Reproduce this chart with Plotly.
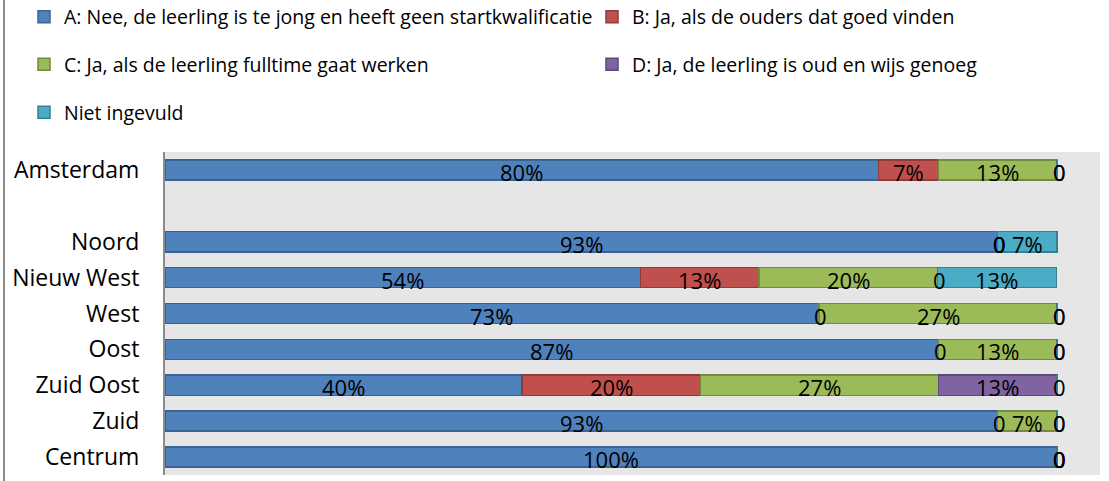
import plotly.graph_objects as go

# ---- data ----
categories = ["Amsterdam", " ", "Noord", "Nieuw West", "West", "Oost", "Zuid Oost", "Zuid", "Centrum"]

series_names = [
    "A: Nee, de leerling is te jong en heeft geen startkwalificatie",
    "B: Ja, als de ouders dat goed vinden",
    "C: Ja, als de leerling fulltime gaat werken",
    "D: Ja, de leerling is oud en wijs genoeg",
    "Niet ingevuld",
]

# percentages (bar lengths)
values_A = [80.0, None, 93.3, 53.3, 73.3, 86.7, 40.0, 93.3, 100.0]
values_B = [6.7, None, 0.0, 13.3, 0.0, 0.0, 20.0, 0.0, 0.0]
values_C = [13.3, None, 0.0, 20.0, 26.7, 13.3, 26.7, 6.7, 0.0]
values_D = [0.0, None, 0.0, 0.0, 0.0, 0.0, 13.3, 0.0, 0.0]
values_N = [0.0, None, 6.7, 13.3, 0.0, 0.0, 0.0, 0.0, 0.0]

# data labels as printed in the chart
labels_A = ["80%", "", "93%", "54%", "73%", "87%", "40%", "93%", "100%"]
labels_B = ["7%", "", "0", "13%", "0", "0", "20%", "0", "0"]
labels_C = ["13%", "", "0", "20%", "27%", "13%", "27%", "7%", "0"]
labels_D = ["0", "", "0", "0", "0", "0", "13%", "0", "0"]
labels_N = ["0", "", "7%", "13%", "0", "0", "0", "0", "0"]

# ---- styling ----
fill_colors = ["#4F81BD", "#C0504D", "#9BBB59", "#8064A2", "#4BACC6"]
edge_colors = ["#3A6391", "#8E3B39", "#728A42", "#5E4A78", "#378093"]
legend_ids = ["legend", "legend2", "legend3", "legend4", "legend5"]
# legend item anchor positions (container fractions)
legend_x = [24 / 1109, 592 / 1109, 24 / 1109, 592 / 1109, 24 / 1109]
legend_y = [1 - 17 / 481, 1 - 17 / 481, 1 - 64.5 / 481, 1 - 64.5 / 481, 1 - 112.5 / 481]

all_values = [values_A, values_B, values_C, values_D, values_N]
all_labels = [labels_A, labels_B, labels_C, labels_D, labels_N]

FONT = "Open Sans"

fig = go.Figure()
for name, vals, col, edge, leg in zip(series_names, all_values, fill_colors, edge_colors, legend_ids):
    fig.add_trace(go.Bar(
        y=categories, x=vals, orientation="h", name=name,
        marker=dict(color=col, line=dict(color=edge, width=1.5)),
        legend=leg, hoverinfo="skip",
    ))

# data labels centred on each segment (computed from the stacked values)
cum = [0.0] * len(categories)
annotations = []
for vals, lbls in zip(all_values, all_labels):
    for i, (cat, v, t) in enumerate(zip(categories, vals, lbls)):
        if v is None:
            continue
        mid = cum[i] + v / 2.0
        cum[i] += v
        annotations.append(dict(
            x=mid, y=cat, xref="x", yref="y", text=t, showarrow=False,
            xanchor="center", yanchor="middle", yshift=-2,
            xshift=2 if v == 0 else 0,
            font=dict(family=FONT, size=22, color="black"),
        ))

# frame line on the left edge of the picture
shapes = [dict(type="line", xref="paper", yref="paper",
               x0=-0.1722, x1=-0.1722, y0=-0.03, y1=1.48,
               line=dict(color="#8C8C8C", width=2))]

legend_layout = {}
for leg, lx, ly in zip(legend_ids, legend_x, legend_y):
    legend_layout[leg] = dict(
        xref="container", yref="container", x=lx, y=ly,
        xanchor="left", yanchor="middle", orientation="v",
        font=dict(family=FONT, size=19.5, color="black"),
        bgcolor="rgba(0,0,0,0)", borderwidth=0,
        itemclick=False, itemdoubleclick=False,
    )

fig.update_layout(
    width=1109, height=481,
    barmode="stack", bargap=0.44,
    margin=dict(l=165, r=9, t=152, b=6, pad=0, autoexpand=False),
    plot_bgcolor="#E6E6E6", paper_bgcolor="white",
    font=dict(family=FONT, size=22, color="black"),
    xaxis=dict(range=[0, 104.8], showticklabels=False, showgrid=False,
               zeroline=False, showline=False, ticks=""),
    yaxis=dict(type="category", categoryorder="array", categoryarray=categories,
               range=[8.5, -0.5], showgrid=False, zeroline=False,
               showline=True, linecolor="#8C8C8C", linewidth=2, ticks="",
               ticklabelstandoff=19,
               tickfont=dict(family=FONT, size=23, color="black")),
    annotations=annotations,
    shapes=shapes,
    showlegend=True,
    **legend_layout,
)

fig.write_html("out.html", config={"displayModeBar": False},
               post_script="document.body.style.margin='0';")
